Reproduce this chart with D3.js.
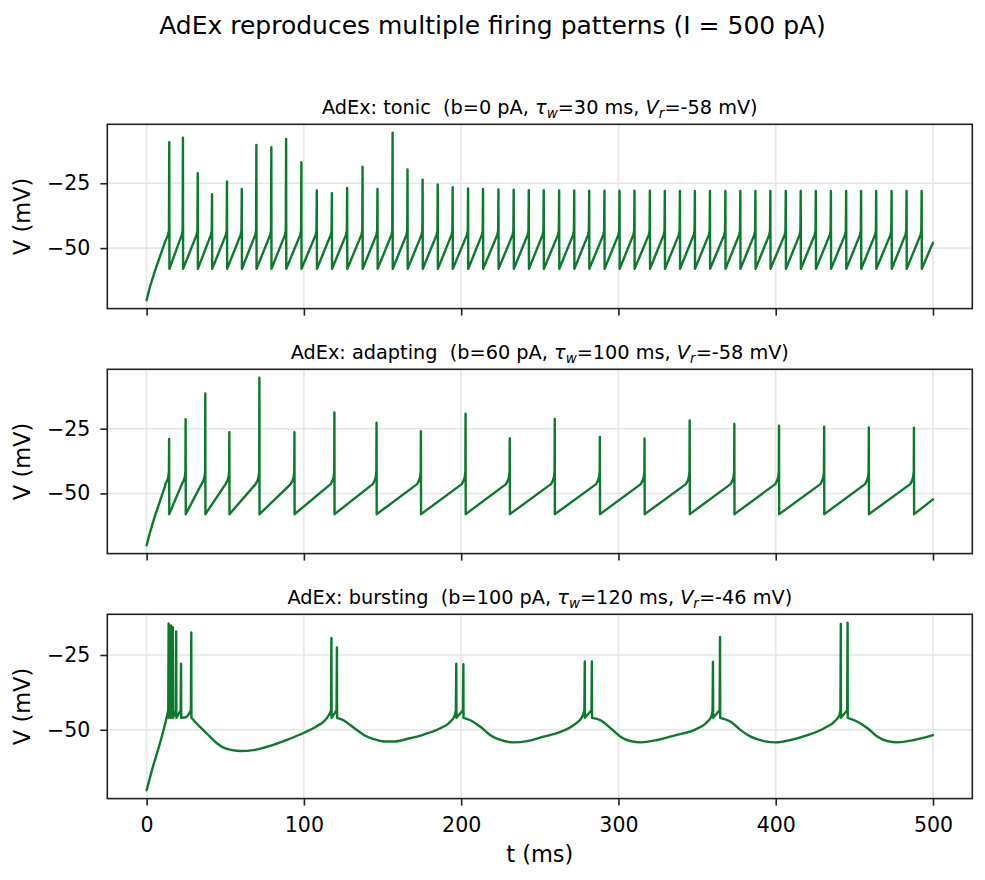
<!DOCTYPE html>
<html>

<head>
  <meta charset="utf-8">
  <title>AdEx firing patterns</title>
  <script src="https://cdn.jsdelivr.net/npm/d3@7"></script>
  <style>
    body { margin: 0; background: #fff; }
    svg text { font-family: 'DejaVu Sans', sans-serif; fill: #000; }
  </style>
</head>

<body>
  <svg id="chart" width="985" height="880"></svg>

  <script>
    // ---- values ----
    var xTicks = [0, 100, 200, 300, 400, 500];
    var yTicks = [-50, -25];

    var patternNames = ['tonic', 'adapting', 'bursting'];
    var bValues = [0, 60, 100];       // pA
    var tauValues = [30, 100, 120];   // ms
    var vrValues = [-58, -58, -46];   // mV

    // tonic: spike times (ms), peak voltages (mV)
    var tonicSpikes = [14.4, 23.1, 32.5, 41.6, 51.1, 60.5, 69.8, 79.3, 88.7, 98.4, 108.2, 117.8, 127.5, 137.3,
      146.8, 156.4, 165.9, 175.5, 185.1, 194.6, 204.4, 213.9, 223.7, 233.4, 243.0, 252.5, 262.3, 271.9, 281.4,
      291.1, 300.7, 310.2, 320.0, 329.5, 339.1, 348.6, 358.2, 368.0, 377.5, 387.1, 396.6, 406.4, 415.9, 425.5,
      435.1, 444.8, 454.3, 463.9, 473.7, 483.2, 492.8];
    var tonicPeaks = [-9.2, -7.4, -21.1, -29.2, -24.3, -27.2, -10.2, -11.1, -7.9, -16.9, -27.8, -28.8, -26.8, -18.6,
      -27.2, -5.5, -19.7, -23.6, -25.5, -26.5, -27.0, -27.2, -27.4, -27.5, -27.7, -27.7, -27.8, -27.8, -27.9,
      -27.9, -27.9, -27.9, -27.9, -28.0, -28.0, -28.0, -28.0, -28.0, -28.0, -28.0, -28.0, -28.0, -28.0, -28.0,
      -28.0, -28.0, -28.0, -28.0, -28.0, -28.0, -28.0];
    var tonicApproach = [[-0.8, -45.0], [-0.2, -43.3]];  // [ms before spike, mV]
    var tonicSub = [[0, -70.1], [2.1, -65.0], [5.3, -58.8], [8.5, -53.2], [11.7, -47.6], [500, -47.9]];

    // adapting
    var adaptSpikes = [14.3, 24.8, 37.3, 52.6, 71.7, 94.0, 119.4, 146.2, 174.4, 202.8, 230.9, 259.5, 288.2,
      316.6, 345.3, 373.7, 402.1, 430.8, 459.2, 487.9];
    var adaptPeaks = [-29.0, -21.3, -11.4, -26.4, -5.3, -26.4, -18.7, -22.7, -26.0, -19.2, -28.7, -21.2, -28.2,
      -28.8, -21.8, -23.2, -23.8, -24.2, -24.5, -24.6];
    var adaptApproach = [[-2.4, -46.4], [-1.2, -45.0], [-0.5, -43.6], [-0.12, -41.5]];
    var adaptSub = [[0, -70.0], [2.1, -65.1], [5.3, -58.7], [8.5, -53.0], [11.7, -47.2], [500, -52.3]];

    // bursting
    var burstSpikes = [14.0, 15.5, 16.7, 18.8, 21.9, 28.4, 117.5, 121.0, 196.9, 201.4, 278.6, 283.1, 360.1,
      364.6, 441.4, 445.7];
    var burstPeaks = [-14.5, -15.1, -15.7, -17.1, -27.9, -17.5, -19.3, -22.5, -27.9, -28.1, -27.2, -27.2, -27.3,
      -19.0, -14.6, -14.2];
    var burstApproach = [[-0.25, -43.5]];
    var burstSub = [[0, -70.2], [4.2, -62.0], [8.5, -54.5], [12.7, -46.0], [25.0, -45.8],
      [31.8, -47.9], [36.0, -50.1], [40.3, -52.3], [44.6, -54.5], [50.9, -56.4], [59.4, -57.1], [67.9, -56.8],
      [78.5, -55.4], [89.1, -53.4], [100.1, -51.0], [108.2, -48.8], [113.5, -46.8], [116.1, -44.9],
      [125.2, -46.8], [129.4, -48.4], [133.5, -50.0], [138.5, -51.8], [144.3, -53.1], [151.0, -53.9],
      [158.0, -53.9], [166.0, -53.0], [176.1, -51.6], [186.7, -49.5], [193.1, -47.3], [195.9, -45.2],
      [205.8, -46.8], [212.2, -49.0], [218.6, -51.8], [224.9, -53.4], [233.4, -54.2], [241.9, -53.8],
      [252.5, -52.3], [263.1, -50.7], [271.6, -48.4], [276.9, -45.7],
      [288.6, -46.8], [295.0, -49.5], [301.3, -52.3], [307.7, -53.8], [314.1, -54.2], [324.7, -53.4],
      [337.0, -51.7], [348.0, -50.1], [356.5, -47.3], [359.2, -45.4],
      [371.4, -47.3], [377.7, -50.1], [384.1, -52.3], [392.6, -53.8], [400.0, -54.2], [409.6, -53.4],
      [420.2, -51.8], [430.8, -49.5], [438.2, -46.8], [440.5, -45.1],
      [452.0, -47.3], [458.4, -49.5], [464.8, -52.3], [471.1, -53.8], [477.5, -54.2], [488.1, -53.4],
      [500, -51.8]];

    // sawtooth ramps are drawn straight, the slow bursting swings smooth
    var panels = [
      { spikes: tonicSpikes, peaks: tonicPeaks, approach: tonicApproach, sub: tonicSub, curve: d3.curveLinear },
      { spikes: adaptSpikes, peaks: adaptPeaks, approach: adaptApproach, sub: adaptSub, curve: d3.curveLinear },
      { spikes: burstSpikes, peaks: burstPeaks, approach: burstApproach, sub: burstSub, curve: d3.curveMonotoneX }
    ];

    // ---- layout ----
    var axLeft = 107.3, axRight = 972.3, panelH = 184.3;
    var panelTops = [124.3, 369.3, 614.3];
    var lineColor = '#0b7a2c';

    // split a trace into subthreshold pieces and spikes (straight)
    function buildTrace(spikes, peaks, reset, approach, sub) {
      var segs = [], cur = [], si = 0;
      spikes.forEach((ts, k) => {
        while (si < sub.length && sub[si][0] < ts) { cur.push(sub[si]); si++; }
        approach.forEach(a => {
          var last = cur.length ? cur[cur.length - 1][0] : -Infinity;
          if (ts + a[0] > last + 0.05) cur.push([ts + a[0], a[1]]);
        });
        segs.push({ type: 'sub', pts: cur });
        segs.push({ type: 'spike', pts: [cur[cur.length - 1], [ts, peaks[k]], [ts + 0.1, reset]] });
        cur = [[ts + 0.1, reset]];
      });
      while (si < sub.length) { cur.push(sub[si]); si++; }
      segs.push({ type: 'sub', pts: cur });
      return segs;
    }

    var svg = d3.select('#chart');

    var x = d3.scaleLinear().domain([-25, 525]).range([axLeft, axRight]);

    svg.append('text')
      .attr('x', 492.5)
      .attr('y', 33.5)
      .attr('text-anchor', 'middle')
      .style('font-size', '25px')
      .text('AdEx reproduces multiple firing patterns (I = 500 pA)');

    panels.forEach((p, i) => {
      var top = panelTops[i], bottom = top + panelH;
      var segs = buildTrace(p.spikes, p.peaks, vrValues[i], p.approach, p.sub);
      var allV = segs.flatMap(s => s.pts.map(d => d[1]));
      var ext = d3.extent(allV), pad = (ext[1] - ext[0]) * 0.05;

      var y = d3.scaleLinear()
        .domain([ext[0] - pad, ext[1] + pad])
        .range([bottom, top]);

      var g = svg.append('g');

      // grid
      g.selectAll('.gx').data(xTicks).join('line')
        .attr('x1', d => x(d)).attr('x2', d => x(d))
        .attr('y1', top).attr('y2', bottom)
        .attr('stroke', '#e6e6e6').attr('stroke-width', 1.6);
      g.selectAll('.gy').data(yTicks).join('line')
        .attr('x1', axLeft).attr('x2', axRight)
        .attr('y1', d => y(d)).attr('y2', d => y(d))
        .attr('stroke', '#e6e6e6').attr('stroke-width', 1.6);

      // trace
      var subLine = d3.line().x(d => x(d[0])).y(d => y(d[1])).curve(p.curve);
      var spikeLine = d3.line().x(d => x(d[0])).y(d => y(d[1]));
      g.append('path')
        .attr('d', segs.map(s => (s.type === 'spike' ? spikeLine : subLine)(s.pts)).join(''))
        .attr('fill', 'none')
        .attr('stroke', lineColor)
        .attr('stroke-width', 2.4)
        .attr('stroke-linejoin', 'round')
        .attr('stroke-linecap', 'round');

      // axes
      var xAxis = d3.axisBottom(x)
        .tickValues(xTicks)
        .tickSize(7)
        .tickPadding(11.8)
        .tickFormat(i === 2 ? d3.format('d') : () => '');
      g.append('g')
        .attr('transform', 'translate(0,' + bottom + ')')
        .call(xAxis)
        .call(a => a.select('.domain').remove())
        .call(a => a.selectAll('line').attr('stroke', '#222').attr('stroke-width', 1.6))
        .call(a => a.selectAll('text').style('font-size', '20.5px').style('font-family', 'DejaVu Sans'));

      var yAxis = d3.axisLeft(y)
        .tickValues(yTicks)
        .tickSize(7)
        .tickPadding(10);
      g.append('g')
        .attr('transform', 'translate(' + axLeft + ',0)')
        .call(yAxis)
        .call(a => a.select('.domain').remove())
        .call(a => a.selectAll('line').attr('stroke', '#222').attr('stroke-width', 1.6))
        .call(a => a.selectAll('text').style('font-size', '20.5px').style('font-family', 'DejaVu Sans'));

      // frame
      g.append('rect')
        .attr('x', axLeft).attr('y', top)
        .attr('width', axRight - axLeft).attr('height', panelH)
        .attr('fill', 'none')
        .attr('stroke', '#222')
        .attr('stroke-width', 1.6);

      // y label
      g.append('text')
        .attr('transform', 'translate(30,' + (top + panelH / 2) + ') rotate(-90)')
        .attr('text-anchor', 'middle')
        .style('font-size', '22.5px')
        .text('V (mV)');

      // panel title with math subscripts
      var t = g.append('text')
        .attr('x', (axLeft + axRight) / 2)
        .attr('y', top - 10)
        .attr('text-anchor', 'middle')
        .style('font-size', '19.3px')
        .style('white-space', 'pre');
      t.append('tspan').text('AdEx: ' + patternNames[i] + '  (b=' + bValues[i] + ' pA, ');
      t.append('tspan').style('font-style', 'italic').text('τ');
      t.append('tspan').style('font-style', 'italic').style('font-size', '13.5px').attr('dy', 4).text('w');
      t.append('tspan').attr('dy', -4).text('=' + tauValues[i] + ' ms, ');
      t.append('tspan').style('font-style', 'italic').text('V');
      t.append('tspan').style('font-style', 'italic').style('font-size', '13.5px').attr('dy', 4).text('r');
      t.append('tspan').attr('dy', -4).text('=' + vrValues[i] + ' mV)');
    });

    svg.append('text')
      .attr('x', (axLeft + axRight) / 2)
      .attr('y', 862)
      .attr('text-anchor', 'middle')
      .style('font-size', '22.5px')
      .text('t (ms)');
  </script>
</body>

</html>
